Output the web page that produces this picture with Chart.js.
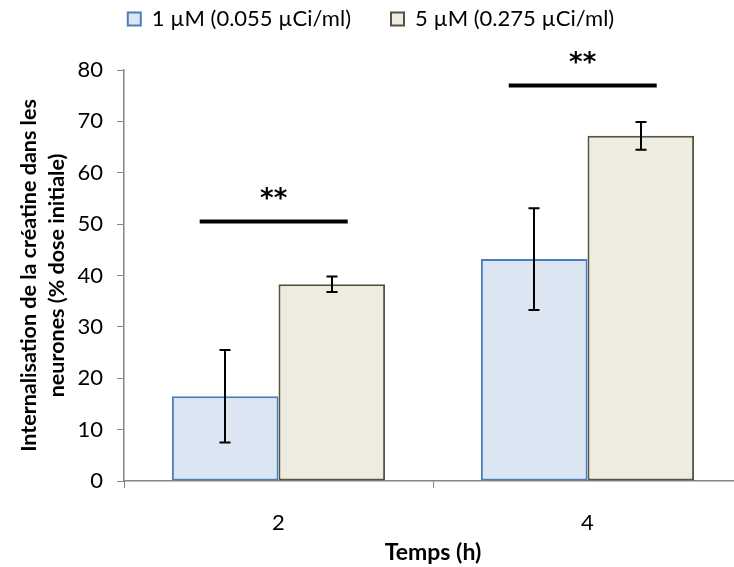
<!DOCTYPE html>
<html><head><meta charset="utf-8">
<script src="https://cdn.jsdelivr.net/npm/chart.js@4"></script>
<style>html,body{margin:0;padding:0;overflow:hidden;background:#fff}#wrap{width:745px;height:567px;position:relative}</style>
</head><body><div id="wrap"><canvas id="c"></canvas></div>
<script>
const categories = ['2', '4'];
const seriesLabels = ['1 µM (0.055 µCi/ml)', '5 µM (0.275 µCi/ml)'];
const values1 = [16.5, 43.2];
const errors1 = [9.0, 9.9];
const values2 = [38.3, 67.2];
const errors2 = [1.5, 2.7];
const sigLevels = [50.5, 77];
const sigMarks = ['**', '**'];
const yTitle = ['Internalisation de la créatine dans les', 'neurones (% dose initiale)'];
const xTitle = 'Temps (h)';

const FONT = 'Lato, "DejaVu Sans", sans-serif';
Chart.defaults.font.family = FONT;
Chart.defaults.color = '#000';

const legendFix = {
  id: 'legendFix',
  beforeInit(chart) {
    const lg = chart.legend;
    if (!lg) return;
    const f = lg.fit;
    lg.fit = function () { f.call(this); this.height = 102; };
  }
};

const annot = {
  id: 'annot',
  afterDatasetsDraw(chart) {
    const ctx = chart.ctx, ys = chart.scales.y, xs = chart.scales.x;
    const errs = [errors1, errors2];
    ctx.save();
    ctx.strokeStyle = '#000';
    ctx.lineWidth = 2;
    chart.data.datasets.forEach((ds, di) => {
      const meta = chart.getDatasetMeta(di);
      meta.data.forEach((bar, i) => {
        const v = ds.data[i], e = errs[di][i];
        const t = ys.getPixelForValue(v + e), b = ys.getPixelForValue(v - e);
        const cx = Math.round(bar.x);
        ctx.beginPath();
        ctx.moveTo(cx, t); ctx.lineTo(cx, b);
        ctx.moveTo(cx - 5.5, t); ctx.lineTo(cx + 5.5, t);
        ctx.moveTo(cx - 5.5, b); ctx.lineTo(cx + 5.5, b);
        ctx.stroke();
      });
    });
    const cw = xs.getPixelForValue(1) - xs.getPixelForValue(0);
    sigLevels.forEach((lv, i) => {
      const c = xs.getPixelForValue(i), py = ys.getPixelForValue(lv);
      const x0 = c - 0.255 * cw, x1 = c + 0.224 * cw;
      ctx.lineWidth = 4;
      ctx.beginPath(); ctx.moveTo(x0, py); ctx.lineTo(x1, py); ctx.stroke();
      ctx.font = 'bold 26px "DejaVu Sans", sans-serif';
      ctx.textAlign = 'center'; ctx.textBaseline = 'middle'; ctx.fillStyle = '#000';
      ctx.fillText(sigMarks[i], (x0 + x1) / 2, py - 21);
    });
    ctx.restore();
  }
};

new Chart(document.getElementById('c'), {
  type: 'bar',
  data: {
    labels: categories,
    datasets: [
      { label: seriesLabels[0], data: values1, backgroundColor: '#DCE6F2', borderColor: '#4A7EBB', borderWidth: 2, borderSkipped: false },
      { label: seriesLabels[1], data: values2, backgroundColor: '#EEECE1', borderColor: '#57533F', borderWidth: 2, borderSkipped: false }
    ]
  },
  options: {
    responsive: true,
    maintainAspectRatio: false,
    animation: false,
    layout: { padding: { top: -32, right: 3, left: 0, bottom: 0 } },
    datasets: { bar: { categoryPercentage: 0.69, barPercentage: 1.0 } },
    plugins: {
      legend: {
        position: 'top',
        labels: { boxWidth: 13, boxHeight: 13, padding: 40, color: '#000', font: { size: 22, family: FONT } }
      },
      tooltip: { enabled: false }
    },
    scales: {
      x: {
        afterFit(s) { s.height = 86; },
        grid: { display: true, drawOnChartArea: false, drawTicks: true, tickLength: 7, color: '#868686', offset: true },
        border: { display: true, color: '#868686', width: 1.5 },
        ticks: { color: '#000', padding: 22, font: { size: 22, family: FONT } },
        title: { display: true, text: xTitle, color: '#000', font: { size: 23, weight: 'bold', family: FONT }, padding: { top: 4, bottom: 1 } }
      },
      y: {
        min: 0, max: 80,
        afterFit(s) { s.width = 124; },
        grid: { display: true, drawOnChartArea: false, drawTicks: true, tickLength: 7, color: '#868686' },
        border: { display: true, color: '#868686', width: 1.5 },
        ticks: { stepSize: 10, color: '#000', padding: 14, font: { size: 22, family: FONT } },
        title: { display: true, text: yTitle, color: '#000', font: { size: 21.5, weight: 'bold', family: FONT, lineHeight: 1.3 }, padding: { top: 15, bottom: 0 } }
      }
    }
  },
  plugins: [legendFix, annot]
});
</script></body></html>
